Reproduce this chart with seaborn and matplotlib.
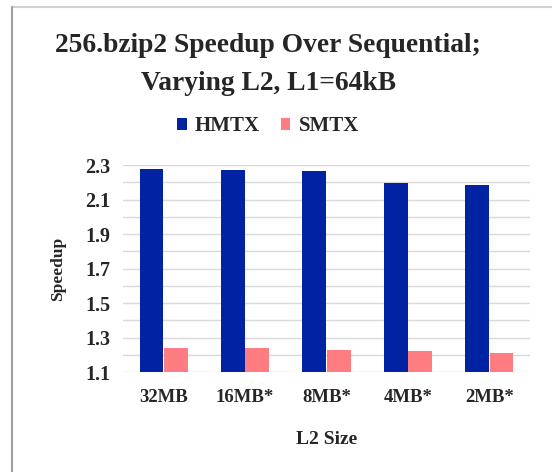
import matplotlib
matplotlib.use("Agg")
import matplotlib.pyplot as plt
import seaborn as sns
import pandas as pd
import numpy as np
from matplotlib.lines import Line2D
from matplotlib.patches import Patch

categories = ["32MB", "16MB*", "8MB*", "4MB*", "2MB*"]
hmtx = [2.277, 2.273, 2.268, 2.196, 2.186]
smtx = [1.237, 1.237, 1.228, 1.222, 1.212]
series = ["HMTX", "SMTX"]
colors = {"HMTX": "#0023A3", "SMTX": "#FF7C80"}
yticks = [1.1, 1.3, 1.5, 1.7, 1.9, 2.1, 2.3]

df = pd.DataFrame({
    "L2": categories * 2,
    "Speedup": hmtx + smtx,
    "Series": ["HMTX"] * len(categories) + ["SMTX"] * len(categories),
})

sns.set_theme(style="white")
plt.rcParams["font.family"] = ["Liberation Serif", "DejaVu Serif"]

fig = plt.figure(figsize=(5.52, 4.72), dpi=100)
ax = fig.add_axes([123 / 552, 1 - 372 / 472, (530 - 123) / 552, (372 - 165) / 472])

sns.barplot(data=df, x="L2", y="Speedup", hue="Series", palette=colors, saturation=1,
            width=0.6, gap=0.03, linewidth=0, ax=ax, legend=False, zorder=3)

ax.set_ylim(1.1, 2.3)
ax.set_yticks(yticks)
ax.set_yticklabels([f"{v:.1f}" for v in yticks], fontsize=14.5, fontweight="bold")
ax.set_yticks(np.arange(1.2, 2.3, 0.2), minor=True)
ax.grid(True, which="both", axis="y", color="#d9d9d9", linewidth=1, zorder=0)
ax.grid(False, axis="x")
ax.tick_params(axis="y", which="both", length=0, pad=9)
ax.tick_params(axis="x", length=0, pad=12)
for lbl in ax.get_xticklabels():
    lbl.set_fontsize(13.5)
    lbl.set_fontweight("bold")
for s in ax.spines.values():
    s.set_visible(False)

ax.set_xlabel("L2 Size", fontsize=14, fontweight="bold", labelpad=18)
ax.set_ylabel("Speedup", fontsize=12.5, fontweight="bold", labelpad=14)

fig.text(0.486, 1 - 46 / 472, "256.bzip2 Speedup Over Sequential;", ha="center", va="center",
         fontsize=19.8, fontweight="bold")
fig.text(0.486, 1 - 84 / 472, "Varying L2, L1=64kB", ha="center", va="center",
         fontsize=19.8, fontweight="bold")

handles = [Patch(facecolor=colors[s], edgecolor="none", label=s) for s in series]
fig.legend(handles=handles, loc="center", bbox_to_anchor=(0.486, 1 - 126 / 472), ncol=2,
           frameon=False, handlelength=0.45, handleheight=0.5, handletextpad=0.4,
           columnspacing=1.0, prop={"size": 15, "weight": "bold"})

# chart frame
fig.add_artist(Line2D([12 / 552, 1], [1 - 7 / 472, 1 - 7 / 472], color="#d0d0d0", linewidth=1.5))
fig.add_artist(Line2D([12 / 552, 12 / 552], [0, 1 - 7 / 472], color="#a0a0a0", linewidth=1.5))

fig.savefig("out.png", dpi=100)
